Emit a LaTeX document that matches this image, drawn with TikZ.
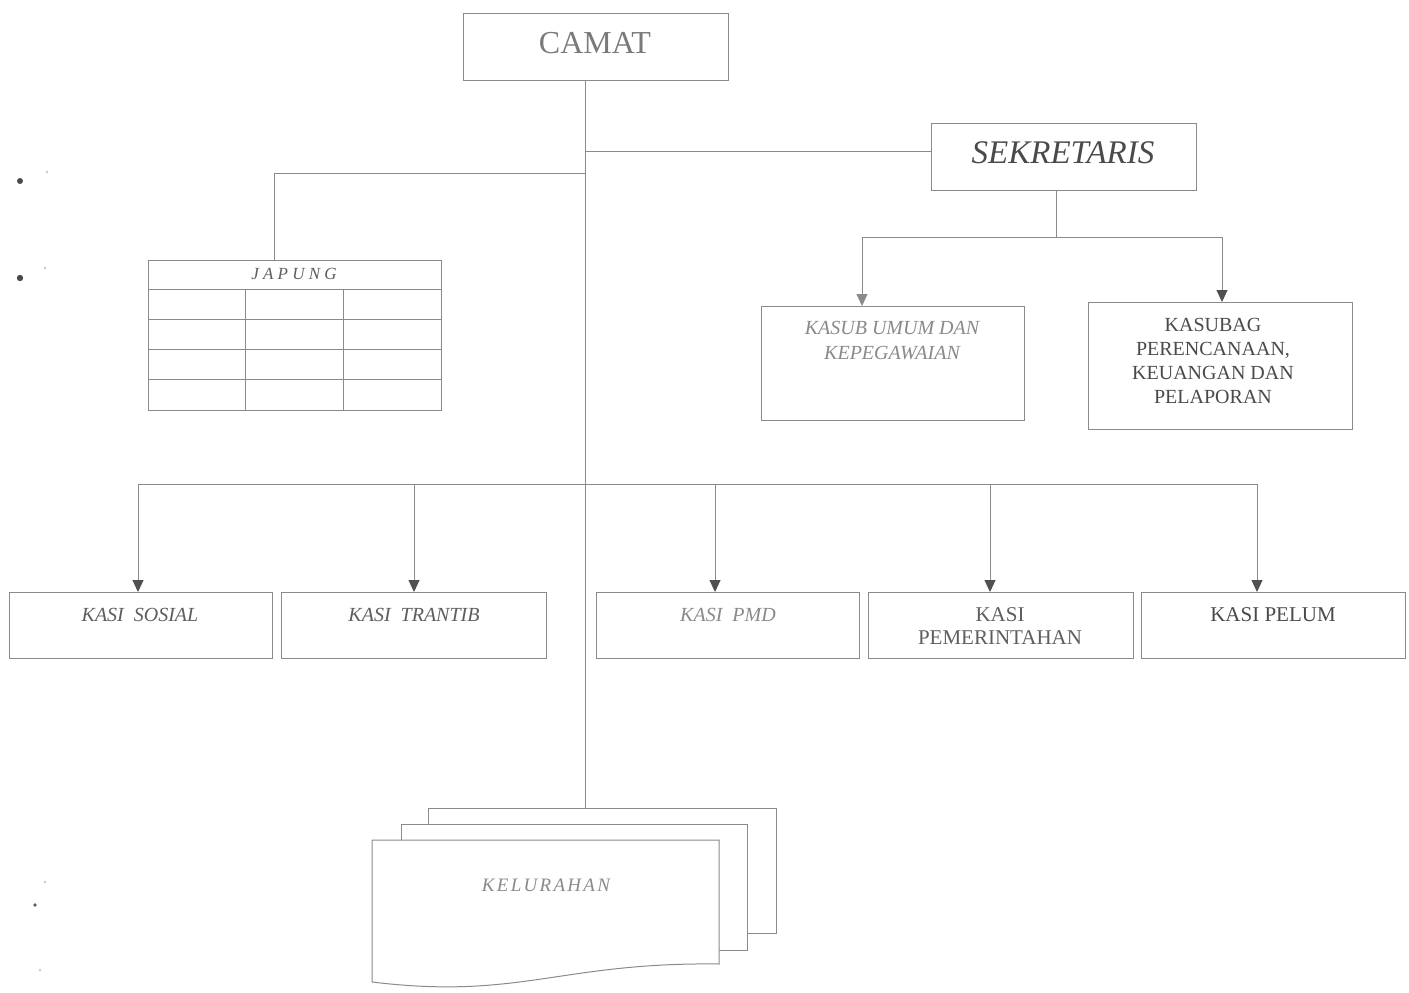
\documentclass[tikz,border=0pt]{standalone}
\usepackage{fontspec}
\setmainfont{Liberation Serif}
\usetikzlibrary{arrows.meta}
\definecolor{ln}{HTML}{8A8A8A}
\definecolor{tipc}{HTML}{505050}
\definecolor{txa}{HTML}{7A7A7A}
\definecolor{txb}{HTML}{4A4A4A}
\definecolor{txc}{HTML}{8A8A8A}
\definecolor{txd}{HTML}{5E5E5E}
\newcommand{\fsz}[2]{\fontsize{#1}{#2}\selectfont}
\begin{document}
\begin{tikzpicture}[x=1pt,y=-1pt,
  box/.style={draw=ln, line width=1.1pt, inner sep=0pt, anchor=north west, fill=white},
  conn/.style={draw=ln, line width=0.9pt},
  arr/.style={draw=ln, line width=0.9pt, -{Triangle[width=11pt,length=12pt,color=tipc]}},
  arrl/.style={draw=ln, line width=0.9pt, -{Triangle[width=11pt,length=12pt,color=txc]}},
  tbl/.style={draw=ln, line width=0.9pt},
  lbl/.style={inner sep=0pt, align=center},
  page/.style={draw=ln, line width=1pt}]
\useasboundingbox (0,0) rectangle (1409,993);

% stray marks
\fill[txb] (20,181) circle (3pt);
\fill[txb] (20,278) circle (3.2pt);
\fill[txd] (35,905) circle (1.8pt);
\fill[txc!50] (47,172) circle (1.3pt);
\fill[txc!50] (45,268) circle (1.3pt);
\fill[txc!50] (45,882) circle (1.3pt);
\fill[txc!50] (40,970) circle (1.3pt);

% top
\node[box, minimum width=265pt, minimum height=67pt] (camat) at (463,13) {};
\node[lbl, text=txa, font=\fsz{32}{36}] (camatt) at (595,43) {CAMAT};

\node[box, minimum width=265pt, minimum height=67pt] (sek) at (931,123) {};
\node[lbl, text=txb, font=\fsz{33}{36}\itshape] (sekt) at (1063,153) {SEKRETARIS};

% sub-sekretaris boxes
\node[box, minimum width=263pt, minimum height=114pt] (kasub) at (761,306) {};
\node[lbl, text=txc, font=\fsz{20}{25}\itshape] (kasubt) at (892,340.5) {KASUB UMUM DAN\\KEPEGAWAIAN};

\node[box, minimum width=264pt, minimum height=127pt] (kasubag) at (1088,302) {};
\node[lbl, text=txb, font=\fsz{20}{24}] (kasubagt) at (1213,361) {KASUBAG\\PERENCANAAN,\\KEUANGAN DAN\\PELAPORAN};

% JAPUNG table
\node[box, minimum width=293pt, minimum height=150pt] (japung) at (148,260) {};
\draw[tbl] (148,289) -- (441,289);
\draw[tbl] (148,319) -- (441,319);
\draw[tbl] (148,349) -- (441,349);
\draw[tbl] (148,379) -- (441,379);
\draw[tbl] (245,289) -- (245,410);
\draw[tbl] (343,289) -- (343,410);
\node[lbl, text=txd, font=\fsz{17}{20}\addfontfeatures{LetterSpace=25}\itshape] (japungt) at (294,274) {JAPUNG};

% bottom row
\node[box, minimum width=263pt, minimum height=66pt] (sos) at (9,592) {};
\node[lbl, text=txd, font=\fsz{20}{24}\itshape] (sost) at (140,615) {KASI\ \ SOSIAL};
\node[box, minimum width=265pt, minimum height=66pt] (tra) at (281,592) {};
\node[lbl, text=txd, font=\fsz{20}{24}\itshape] (trat) at (414,615) {KASI\ \ TRANTIB};
\node[box, minimum width=263pt, minimum height=66pt] (pmd) at (596,592) {};
\node[lbl, text=txc, font=\fsz{20}{24}\itshape] (pmdt) at (728,615) {KASI\ \ PMD};
\node[box, minimum width=265pt, minimum height=66pt] (pem) at (868,592) {};
\node[lbl, text=txd, font=\fsz{21}{23}] (pemt) at (1000,626.5) {KASI\\PEMERINTAHAN};
\node[box, minimum width=264pt, minimum height=66pt] (pel) at (1141,592) {};
\node[lbl, text=txb, font=\fsz{21}{24}] (pelt) at (1273,615) {KASI PELUM};

% KELURAHAN stacked documents
\draw[page] (428,824) -- (428,808) -- (776,808) -- (776,933) -- (747,933);
\draw[page] (401,840) -- (401,824) -- (747,824) -- (747,950) -- (719,950);
\draw[page, fill=white] (372,840) -- (719,840) -- (719,964) .. controls (560,962) and (520,1000) .. (372,982) -- cycle;
\node[lbl, text=txc, font=\fsz{19}{22}\addfontfeatures{LetterSpace=12}\itshape] (kel) at (546,885) {KELURAHAN};
\coordinate (keltop) at (585,808);

% connectors
\coordinate (s1) at (585,151);
\coordinate (j0) at (585,173);
\coordinate (j1) at (274,173);
\coordinate (s2) at (1056,237);
\coordinate (a1) at (862,237);
\coordinate (a2) at (1222,237);
\coordinate (bb1) at (138,484);
\coordinate (bb2) at (414,484);
\coordinate (bb3) at (715,484);
\coordinate (bb4) at (990,484);
\coordinate (bb5) at (1257,484);

\draw[conn] (camat.south -| keltop) -- (keltop);
\draw[conn] (s1) -- (s1 -| sek.west);
\draw[conn] (j0) -- (j1) -- (j1 |- japung.north);
\draw[conn] (s2 |- sek.south) -- (s2);
\draw[conn] (a1) -- (a2);
\draw[arrl] (a1) -- (a1 |- kasub.north);
\draw[arr] (a2) -- (a2 |- kasubag.north);
\draw[conn] (bb1) -- (bb5);
\draw[arr] (bb1) -- (bb1 |- sos.north);
\draw[arr] (bb2) -- (bb2 |- tra.north);
\draw[arr] (bb3) -- (bb3 |- pmd.north);
\draw[arr] (bb4) -- (bb4 |- pem.north);
\draw[arr] (bb5) -- (bb5 |- pel.north);
\end{tikzpicture}
\end{document}
